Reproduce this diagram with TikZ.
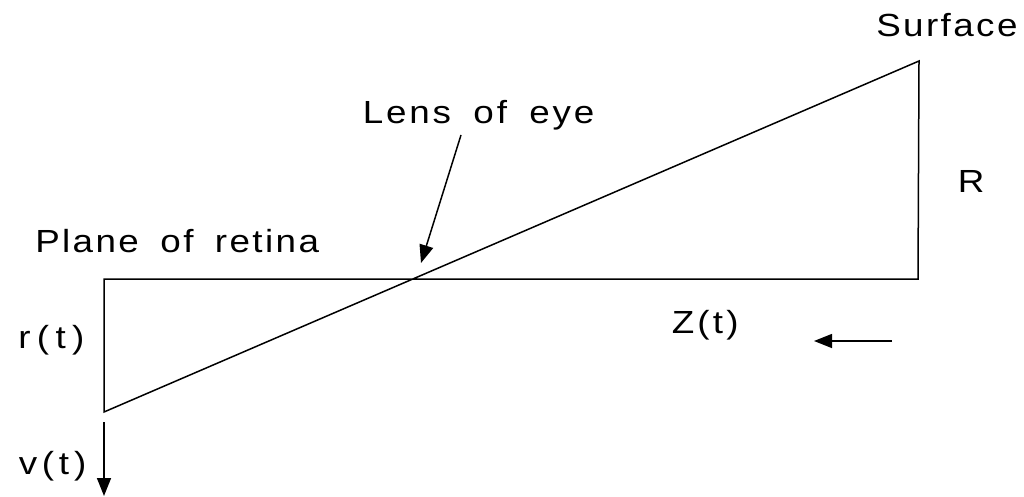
\documentclass[tikz,border=0pt]{standalone}
\usepackage{fontspec}
\setmainfont{Liberation Sans}[WordSpace=1.7, FakeStretch=1.15]
\usetikzlibrary{arrows.meta}
\begin{document}
\begin{tikzpicture}[x=1pt,y=-1pt, line width=1.5pt,
  lbl/.style={font=\fontsize{32}{38}\selectfont\addfontfeature{LetterSpace=#1}, inner sep=0pt, anchor=base west},
  arr/.style={-{Triangle[length=18pt,width=14pt]}}]
\useasboundingbox (0,0) rectangle (1024,497);
% geometry
\coordinate (RB) at (104,412);
\coordinate (RT) at (104,279);
\coordinate (SB) at (918,279);
\coordinate (ST) at (919,61);
\draw[line join=miter] (RB) -- (RT) -- (SB) -- (ST) -- cycle;
% labels
\node[lbl=7.5] (surf) at (875.5,37) {Surface};
\node[lbl=9] (lens) at (362,124) {Lens of eye};
\node[lbl=7.5] (plane) at (34.5,252) {Plane of retina};
\node[lbl=7.5] (R) at (957,193) {R};
\node[lbl=20] (r) at (17.5,348) {r(t)};
\node[lbl=10] (Z) at (671,333) {Z(t)};
\node[lbl=15] (v) at (18,474) {v(t)};
% arrows
\coordinate (lensTail) at (461,135);
\coordinate (lensTip) at (421,263);
\draw[arr] (lensTail) -- (lensTip);
\coordinate (vTail) at (104,422);
\coordinate (vTip) at (104,496);
\draw[arr] (vTail) -- (vTip);
\coordinate (zTail) at (892,341);
\coordinate (zTip) at (814,341);
\draw[arr] (zTail) -- (zTip);
\end{tikzpicture}
\end{document}
